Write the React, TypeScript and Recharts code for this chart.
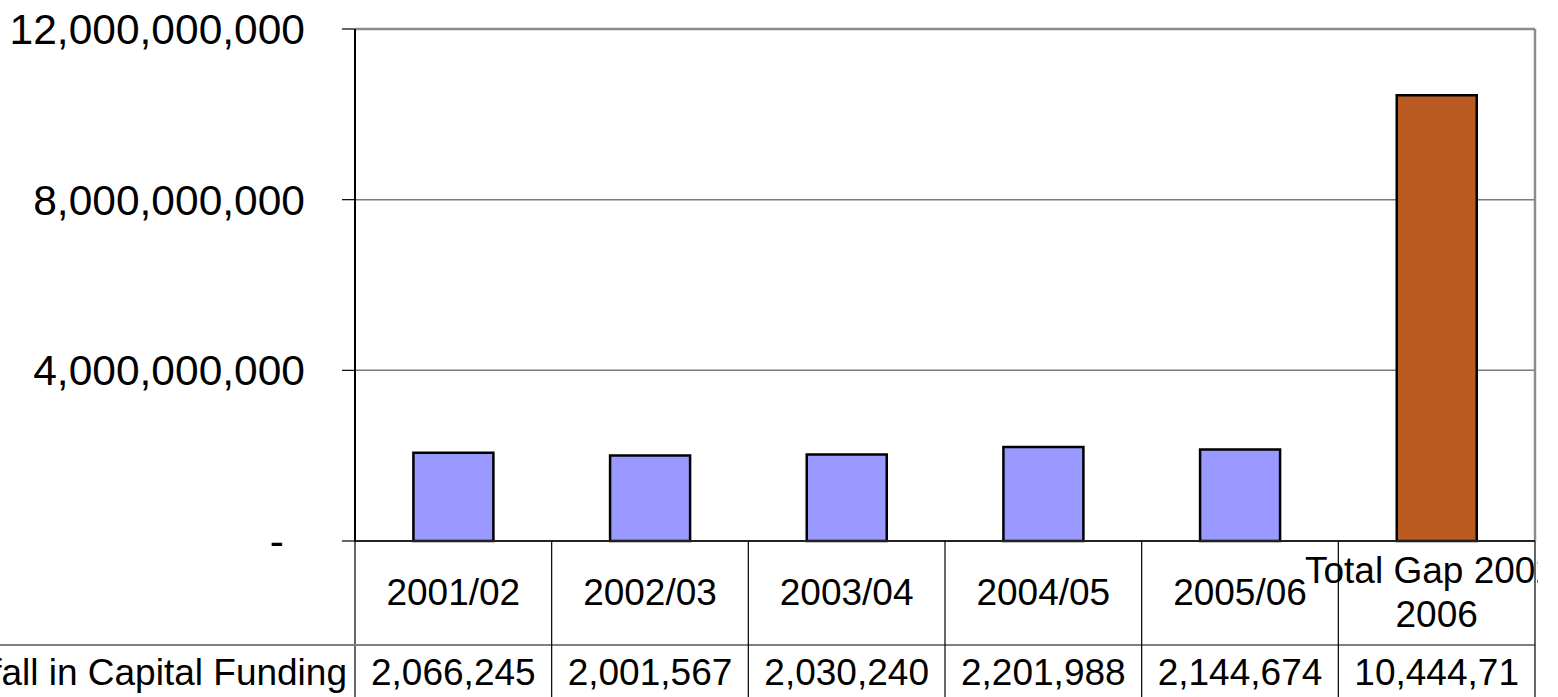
import { Bar, BarChart, CartesianGrid, Cell, ReferenceLine, XAxis, YAxis } from "recharts";

const periods = ["2001/02", "2002/03", "2003/04", "2004/05", "2005/06", "Total Gap 2002-2006"];
// shortfall per period, the last one is the total gap
const shortfall = [2066245000, 2001567000, 2030240000, 2201988000, 2144674000, 10444714000];
// table cells as printed (the last one is cut off by its cell)
const tableText = ["2,066,245", "2,001,567", "2,030,240", "2,201,988", "2,144,674", "10,444,71"];
const rowLabel = "Shortfall in Capital Funding";
const yTicks = [0, 4000000000, 8000000000, 12000000000];

const barColors = ["#9999FF", "#9999FF", "#9999FF", "#9999FF", "#9999FF", "#BA5B22"];

const rows = periods.map((period, i) => ({ period, value: shortfall[i] }));

const FONT = "'Liberation Sans', Arial, sans-serif";
const WIDTH = 1538;
const HEIGHT = 697;
const PLOT_LEFT = 355;
const PLOT_RIGHT = 1535;
const PLOT_BOTTOM = 541;
const ROW_SPLIT = 645;
const BAND = (PLOT_RIGHT - PLOT_LEFT) / periods.length;
const TABLE_FONT = 37;

function splitLabel(label: string): string[] {
  const cut = label.indexOf("-");
  if (label.length > 10 && cut > 0) return [label.slice(0, cut + 1), label.slice(cut + 1)];
  return [label];
}

function TableTick(props: any) {
  const { x, payload, index } = props;
  const lines = splitLabel(String(payload.value));
  const right = x + BAND / 2;
  const left = x - BAND / 2;
  return (
    <g>
      {index === 0 && (
        <>
          <line x1={left} y1={PLOT_BOTTOM} x2={left} y2={HEIGHT} stroke="#000" strokeWidth={1.2} />
          <line x1={0} y1={ROW_SPLIT} x2={PLOT_RIGHT} y2={ROW_SPLIT} stroke="#808080" strokeWidth={2} />
          <text x={347} y={685} textAnchor="end" fontSize={TABLE_FONT} fill="#000" fontFamily={FONT}>
            {rowLabel}
          </text>
        </>
      )}
      <line x1={right} y1={PLOT_BOTTOM} x2={right} y2={HEIGHT} stroke="#000" strokeWidth={1.2} />
      {lines.length === 1 ? (
        <text x={x} y={605} textAnchor="middle" fontSize={TABLE_FONT} fill="#000" fontFamily={FONT}>
          {lines[0]}
        </text>
      ) : (
        <text textAnchor="middle" fontSize={TABLE_FONT} fill="#000" fontFamily={FONT}>
          <tspan x={x} y={583}>{lines[0]}</tspan>
          <tspan x={x} y={627}>{lines[1]}</tspan>
        </text>
      )}
      <text x={x} y={685} textAnchor="middle" fontSize={TABLE_FONT} fill="#000" fontFamily={FONT}>
        {tableText[index]}
      </text>
    </g>
  );
}

function YTick(props: any) {
  const { x, y, payload } = props;
  const v = Number(payload.value);
  const label = v === 0 ? "-" : v.toLocaleString("en-US");
  return (
    <text
      x={v === 0 ? x - 21 : x}
      y={y}
      dy="0.355em"
      textAnchor="end"
      fontSize={42.5}
      fill="#000"
      fontFamily={FONT}
    >
      {label}
    </text>
  );
}

export default function App() {
  return (
    <div
      style={{
        position: "absolute",
        left: 0,
        top: 0,
        width: WIDTH,
        height: HEIGHT,
        overflow: "hidden",
        background: "#fff",
      }}
    >
      <BarChart
        width={WIDTH}
        height={HEIGHT}
        data={rows}
        margin={{ top: 29, right: WIDTH - PLOT_RIGHT, left: 0, bottom: 0 }}
        barCategoryGap="29.7%"
      >
        <CartesianGrid vertical={false} stroke="#7a7a7a" strokeWidth={1.5} />
        <CartesianGrid
          horizontal={false}
          verticalPoints={[PLOT_RIGHT]}
          stroke="#8c8c8c"
          strokeWidth={2.5}
        />
        <XAxis
          dataKey="period"
          height={HEIGHT - PLOT_BOTTOM}
          interval={0}
          tickLine={false}
          axisLine={{ stroke: "#222", strokeWidth: 2 }}
          tick={<TableTick />}
        />
        <YAxis
          width={PLOT_LEFT}
          domain={[0, 12000000000]}
          ticks={yTicks}
          tickSize={13}
          tickMargin={37}
          tickLine={{ stroke: "#000", strokeWidth: 1.2 }}
          axisLine={{ stroke: "#000", strokeWidth: 2 }}
          tick={<YTick />}
        />
        <ReferenceLine y={12000000000} stroke="#8c8c8c" strokeWidth={2.5} />
        <Bar dataKey="value" stroke="#000" strokeWidth={2.5} isAnimationActive={false}>
          {rows.map((r, i) => (
            <Cell key={r.period} fill={barColors[i]} />
          ))}
        </Bar>
      </BarChart>
    </div>
  );
}
